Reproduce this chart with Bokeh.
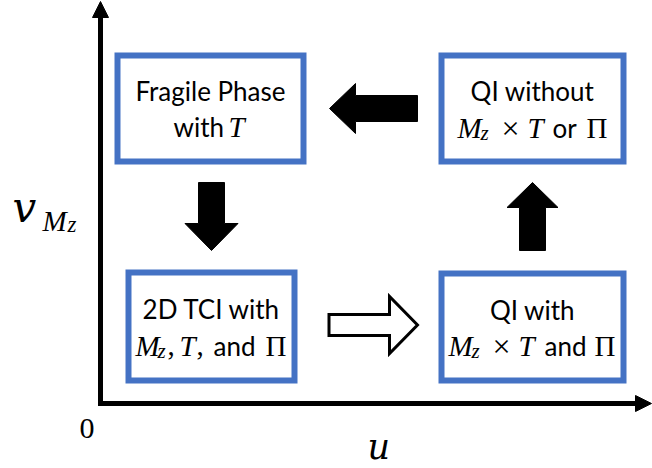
from bokeh.plotting import figure
from bokeh.models import Range1d, ColumnDataSource
from bokeh.core.properties import value
from bokeh.embed import file_html
from bokeh.resources import INLINE
import math

# ---------------- content ----------------
box_titles = ["Fragile Phase", "QI without", "2D TCI with", "QI with"]
# second lines as (text, style) segments
box_second = [
    [("with ", "sans"), ("T", "mi")],
    [("M", "mi"), ("z", "sub"), ("\u00d7", "op"), ("T", "mi"), ("or", "sans"), ("\u03a0", "mr")],
    [("M", "mi"), ("z", "sub"), (",", "mr"), ("T", "mi"), (",", "mr"), ("and", "sans"), ("\u03a0", "mr")],
    [("M", "mi"), ("z", "sub"), ("\u00d7", "op"), ("T", "mi"), ("and", "sans"), ("\u03a0", "mr")],
]
origin_label = "0"
x_label = "u"
y_label = [("v", "big"), ("M", "ysub"), ("z", "ysub2")]

# ---------------- layout (reference pixel frame) ----------------
W, H = 652, 468
TEXT_SHIFT = -10  # renderer baseline correction
box_left = [117, 441, 128, 441]
box_right = [303, 623, 294, 623]
box_top = [55, 55, 272, 273]
box_bottom = [161, 161, 380, 380]
line1_base = [100, 100, 318, 319]
line2_base = [136, 137, 355, 355]
seg_x = [
    [173, 228],
    [457, 480, 510, 527, 552, 586],
    [135, 157, 167, 179, 196, 213, 265],
    [448, 471, 501, 518, 544, 594],
]

BLUE = "#4472C4"
SANS = "Lato"
SERIF = "Liberation Serif"
MATHBIG = "DejaVu Serif"
styles = {
    "sans": (SANS, "26px", "normal", "left", 0),
    "mi": (SERIF, "29px", "italic", "left", 0),
    "mr": (SERIF, "29px", "normal", "left", 0),
    "op": (SERIF, "32px", "normal", "center", 0),
    "sub": (SERIF, "21px", "italic", "left", 5),
    "big": (MATHBIG, "42px", "italic", "left", 0),
    "ysub": (SERIF, "29px", "italic", "left", 13),
    "ysub2": (SERIF, "23px", "italic", "left", 17),
}

p = figure(width=W, height=H, x_range=Range1d(0, W), y_range=Range1d(H, 0),
           toolbar_location=None, output_backend="svg", min_border=0,
           x_axis_location=None, y_axis_location=None, title=None)
p.grid.visible = False
p.outline_line_color = None
p.background_fill_color = "white"
p.border_fill_color = "white"

# ---------------- axes ----------------
ax_x, ax_y = 100, 403
p.line([ax_x, ax_x, 638], [16, ax_y, ax_y], line_width=5, line_color="black", line_join="miter")
p.patches(xs=[[ax_x - 8, ax_x + 8, ax_x], [635, 635, 651]],
          ys=[[17, 17, 1], [ax_y - 8, ax_y + 8, ax_y]],
          fill_color="black", line_color="black", line_width=1)

# ---------------- block arrows ----------------
def block_arrow(x0, y0, x1, y1, sw, hw, hl):
    L = math.hypot(x1 - x0, y1 - y0)
    dx, dy = (x1 - x0) / L, (y1 - y0) / L
    nx, ny = -dy, dx
    kx, ky = x1 - dx * hl, y1 - dy * hl
    pts = [
        (x0 + nx * sw / 2, y0 + ny * sw / 2),
        (kx + nx * sw / 2, ky + ny * sw / 2),
        (kx + nx * hw / 2, ky + ny * hw / 2),
        (x1, y1),
        (kx - nx * hw / 2, ky - ny * hw / 2),
        (kx - nx * sw / 2, ky - ny * sw / 2),
        (x0 - nx * sw / 2, y0 - ny * sw / 2),
    ]
    return [q[0] for q in pts], [q[1] for q in pts]

solid = [block_arrow(211, 182, 211, 250, 26, 53, 27),
         block_arrow(417, 108, 329, 108, 26, 50, 26),
         block_arrow(532, 250, 532, 182, 26, 51, 25)]
p.patches(xs=[a[0] for a in solid], ys=[a[1] for a in solid],
          fill_color="black", line_color="black", line_width=1)
hx, hy = block_arrow(328.5, 324.5, 417, 324.5, 21, 57, 28)
p.patch(hx, hy, fill_color="white", line_color="black", line_width=3, line_join="miter")

# ---------------- boxes ----------------
p.quad(left=box_left, right=box_right, top=box_top, bottom=box_bottom,
       fill_color="white", line_color=BLUE, line_width=6, line_join="miter")

# ---------------- texts ----------------
rows = dict(x=[], y=[], text=[], font=[], size=[], style=[], align=[])

def add(x, y, t, st, size=None):
    f, s, fs, al, dy = styles[st]
    rows["x"].append(x); rows["y"].append(y + dy + TEXT_SHIFT); rows["text"].append(t)
    rows["font"].append(f); rows["size"].append(size or s); rows["style"].append(fs)
    rows["align"].append(al)

for i, t in enumerate(box_titles):
    cx = (box_left[i] + box_right[i]) / 2
    rows["x"].append(cx); rows["y"].append(line1_base[i] + TEXT_SHIFT); rows["text"].append(t)
    rows["font"].append(SANS); rows["size"].append("26px"); rows["style"].append("normal")
    rows["align"].append("center")
    for (seg, st), sx in zip(box_second[i], seg_x[i]):
        add(sx, line2_base[i], seg, st)

add(79, 438, origin_label, "mr", "30px")
add(367, 456, x_label, "big", "35px")
for (seg, st), sx in zip(y_label, [12, 42, 67]):
    add(sx, 217, seg, st)

src = ColumnDataSource(rows)
p.text(x="x", y="y", text="text", source=src, text_font="font", text_font_size="size",
       text_font_style="style", text_align="align", text_baseline="alphabetic",
       text_color="black")

open("out.html", "w").write(file_html(p, INLINE))
